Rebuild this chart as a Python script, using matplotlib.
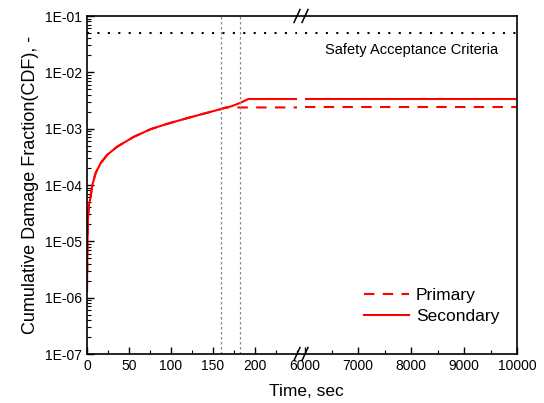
import numpy as np
import matplotlib
matplotlib.use("Agg")
import matplotlib.pyplot as plt
from matplotlib.lines import Line2D
from matplotlib.ticker import MultipleLocator, LogLocator, FuncFormatter, NullFormatter

plt.rcParams["font.family"] = ["Liberation Sans", "DejaVu Sans"]

# transient part
t_early = [0, 0.3, 0.7, 1.2, 2.5, 4.4, 6.3, 10.3, 16.3, 24.2, 36, 56, 75.8,
           95.6, 115.5, 135, 160]
cdf_early = [1.3e-6, 4e-6, 1.2e-5, 2.6e-5, 4.5e-5, 6.3e-5, 1.0e-4, 1.63e-4,
             2.45e-4, 3.45e-4, 4.8e-4, 7.2e-4, 9.8e-4, 1.22e-3, 1.48e-3,
             1.78e-3, 2.24e-3]

# secondary keeps rising to ~192 s, primary levels off just after 160 s
t_sec_tail = [172, 182, 192, 250]
cdf_sec_tail = [2.5e-3, 2.85e-3, 3.36e-3, 3.36e-3]
t_pri_tail = [165, 250]
cdf_pri_tail = [2.38e-3, 2.38e-3]

t_late = [6000, 10000]
cdf_sec_late = [3.36e-3, 3.36e-3]
cdf_pri_late = [2.38e-3, 2.38e-3]

safety_limit = 5e-2
marker_times = [160, 182]

x_left_ticks = [0, 50, 100, 150, 200]
x_right_ticks = [6000, 7000, 8000, 9000, 10000]

RED = "#ff0000"
W, H = 544, 403


def px(x, y):
    # pixel (from top-left) -> figure coords
    return x / W, 1 - y / H


fig = plt.figure(figsize=(W / 100, H / 100), dpi=100)
top, bot = 16, 354
axL = fig.add_axes([87 / W, 1 - bot / H, 210 / W, (bot - top) / H])
axR = fig.add_axes([305 / W, 1 - bot / H, 212 / W, (bot - top) / H], sharey=axL)

sec_t = t_early + t_sec_tail
sec_c = cdf_early + cdf_sec_tail
pri_t = t_early + t_pri_tail
pri_c = cdf_early + cdf_pri_tail

axL.plot(pri_t, pri_c, color=RED, lw=1.5, ls=(0, (5, 4)))
axL.plot(sec_t, sec_c, color=RED, lw=1.5)
axR.plot(t_late, cdf_pri_late, color=RED, lw=1.5, ls=(0, (5, 4)), label="Primary")
axR.plot(t_late, cdf_sec_late, color=RED, lw=1.5, label="Secondary")

for ax in (axL, axR):
    ax.axhline(safety_limit, color="black", lw=1.5, ls=(0, (1, 4)))
for tm in marker_times:
    axL.axvline(tm, color="#888888", lw=0.9, ls=(0, (2, 2)))

axL.set_yscale("log")
axL.set_ylim(1e-7, 1e-1)
axL.yaxis.set_major_locator(LogLocator(base=10, numticks=10))
axL.yaxis.set_minor_locator(LogLocator(base=10, subs=np.arange(2, 10), numticks=100))
axL.yaxis.set_major_formatter(FuncFormatter(lambda v, p: "1E-%02d" % round(-np.log10(v))))
axL.yaxis.set_minor_formatter(NullFormatter())

axL.set_xlim(0, 250)
axL.set_xticks(x_left_ticks)
axL.xaxis.set_minor_locator(MultipleLocator(25))
axR.set_xlim(6000, 10000)
axR.set_xticks(x_right_ticks)
axR.xaxis.set_minor_locator(MultipleLocator(500))

for ax in (axL, axR):
    ax.tick_params(which="both", direction="in", labelsize=10, color="black")
    ax.tick_params(which="major", length=5, width=1)
    ax.tick_params(which="minor", length=3, width=0.8)
    for s in ax.spines.values():
        s.set_linewidth(1.2)
axL.tick_params(axis="y", which="both", right=False)
axL.spines["right"].set_visible(False)
axR.spines["left"].set_visible(False)
axR.tick_params(axis="y", which="both", left=False, labelleft=False)

axL.set_ylabel("Cumulative Damage Fraction(CDF), -", fontsize=13, labelpad=4)
fig.text(306 / W, 1 - 391 / H, "Time, sec", fontsize=12.5, ha="center", va="center")

axR.text(0.91, 0.9, "Safety Acceptance Criteria", transform=axR.transAxes,
         fontsize=10.5, ha="right", va="center")

axR.legend(loc="lower right", bbox_to_anchor=(0.99, 0.042), frameon=False,
           fontsize=12.5, handlelength=2.6, handletextpad=0.4, labelspacing=0.35)

# bridge the spines across the break and draw the // marks
for y in (top, bot):
    x0, y0 = px(297, y)
    x1, _ = px(305, y)
    fig.add_artist(Line2D([x0, x1], [y0, y0], color="black", lw=1.2))
    for xc in (297, 305):
        a = px(xc - 3, y + 6.5)
        b = px(xc + 3, y - 6.5)
        fig.add_artist(Line2D([a[0], b[0]], [a[1], b[1]], color="black", lw=1.1))

fig.savefig("out.png", dpi=100)
